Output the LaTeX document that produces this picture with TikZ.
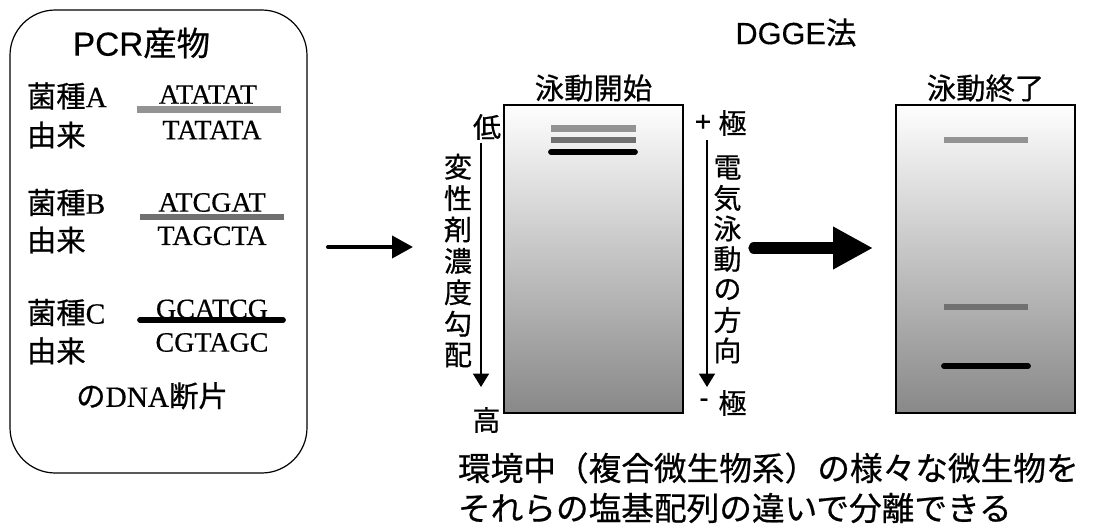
\documentclass[tikz,border=0pt]{standalone}
\usepackage{fontspec}
\setmainfont[FakeBold=0.5]{Liberation Serif}
\newfontfamily\jp[FakeBold=0.6]{Noto Sans CJK JP}
\newfontfamily\arial[FakeBold=0.3]{Liberation Sans}
\usetikzlibrary{arrows.meta}
\definecolor{bandlight}{HTML}{939393}
\definecolor{banddark}{HTML}{707070}
\definecolor{geltop}{HTML}{FEFEFE}
\definecolor{gelbot}{HTML}{888888}
\begin{document}
\begin{tikzpicture}[x=0.75pt,y=-0.75pt,
  every node/.style={inner sep=0pt,outer sep=0pt},
  jplabel/.style={font=\jp\fontsize{22}{26}\selectfont},
  jpvert/.style={font=\jp\fontsize{21}{24}\selectfont},
  seqtext/.style={font=\fontsize{21}{25}\selectfont},
  strainlabel/.style={anchor=west,font=\fontsize{22}{26}\selectfont},
  gelbox/.style={draw=black,line width=1pt,top color=geltop,bottom color=gelbot,
    minimum width=134.25pt,minimum height=231pt},
  bandA/.style={line width=5pt,color=bandlight},
  bandB/.style={line width=4.7pt,color=banddark},
  bandC/.style={line width=4.3pt,color=black,line cap=round},
  thinarrow/.style={line width=1pt,-{Triangle[length=10pt,width=12pt]}},
]
\useasboundingbox (0,0) rectangle (1101,532);

% PCR box
\node[draw=black,line width=0.9pt,rounded corners=34pt,minimum width=222.75pt,minimum height=347.25pt] (pcrbox) at (158.5,241.5) {};
\node[font=\fontsize{25}{29}\selectfont] (pcrtitle) at (141.5,43) {\arial PCR\jp 産物};

\node[strainlabel] (sA) at (27,96) {{\jp 菌種}A};
\node[strainlabel] (oA) at (27,135) {\jp 由来};
\node[strainlabel] (sB) at (27,202.5) {{\jp 菌種}B};
\node[strainlabel] (oB) at (27,240) {\jp 由来};
\node[strainlabel] (sC) at (27,312.5) {{\jp 菌種}C};
\node[strainlabel] (oC) at (27,350.8) {\jp 由来};

\node[seqtext] (seqA1) at (208,94.5) {ATATAT};
\node[seqtext] (seqA2) at (212,130) {TATATA};
\node[seqtext] (seqB1) at (212,202.5) {ATCGAT};
\node[seqtext] (seqB2) at (212,235.8) {TAGCTA};
\node[seqtext] (seqC1) at (212,309) {GCATCG};
\node[seqtext] (seqC2) at (212,342.5) {CGTAGC};

\draw[bandA] (137,109.7) -- (281,109.7);
\draw[bandB] (140,216.7) -- (284,216.7);
\draw[bandC] (140,320) -- (283,320);

\node[font=\fontsize{22}{26}\selectfont] (dna) at (152,395.8) {{\jp の}DNA{\jp 断片}};

% arrow to gel
\coordinate (ar1s) at (328,247);
\coordinate (ar1e) at (413,247);
\draw[line width=3pt,line cap=round,-{Triangle[length=15.75pt,width=16.5pt]}] (ar1s) -- (ar1e);

% title
\node[font=\fontsize{23}{27}\selectfont] (dgge) at (796,32.5) {\arial DGGE\jp 法};

% gels
\node[gelbox] (gel1) at (593.5,259) {};
\node[gelbox] (gel2) at (985.5,259) {};
\node[jplabel] (start) at (593.5,88) {泳動開始};
\node[jplabel] (end) at (985.5,88) {泳動終了};

\draw[bandA] (551,128.5) -- (636,128.5);
\draw[bandB] (551,140) -- (636,140);
\draw[bandC] (551,152) -- (635,152);

\draw[bandA] (944,140) -- (1028,140);
\draw[bandB] (944,307) -- (1028,307);
\draw[bandC] (944,366) -- (1028,366);

% left axis
\node[jpvert] (low) at (487,127) {低};
\node[jpvert] (high) at (486.5,420) {高};
\coordinate (la1) at (481,143);
\coordinate (la2) at (481,387);
\draw[thinarrow] (la1) -- (la2);
\foreach \c [count=\i from 0] in {変,性,剤,濃,度,勾,配}
  \node[jpvert] (lv\i) at (458,166.7+31.4*\i) {\c};

% right axis
\node[font=\arial\fontsize{21}{24}\selectfont] (plus) at (703,123) {+};
\node[jpvert] (poleP) at (732.5,123) {極};
\node[font=\arial\fontsize{21}{24}\selectfont] (minus) at (704,403) {-};
\node[jpvert] (poleM) at (732.5,403) {極};
\coordinate (ra1) at (707,140);
\coordinate (ra2) at (707,387);
\draw[thinarrow] (ra1) -- (ra2);
\foreach \c [count=\i from 0] in {電,気,泳,動,の,方,向}
  \node[jpvert] (rv\i) at (727.5,167.5+30.5*\i) {\c};

% big arrow
\coordinate (bas) at (754,248);
\coordinate (bae) at (873,248);
\draw[line width=8.5pt,line cap=round,-{Triangle[length=30pt,width=30pt]}] (bas) -- (bae);

% bottom text
\node[anchor=west,font=\jp\fontsize{24.5}{30}\selectfont] (note1) at (458,468) {環境中（複合微生物系）の様々な微生物を};
\node[anchor=west,font=\jp\fontsize{24.5}{30}\selectfont] (note2) at (458,508) {それらの塩基配列の違いで分離できる};
\end{tikzpicture}
\end{document}
